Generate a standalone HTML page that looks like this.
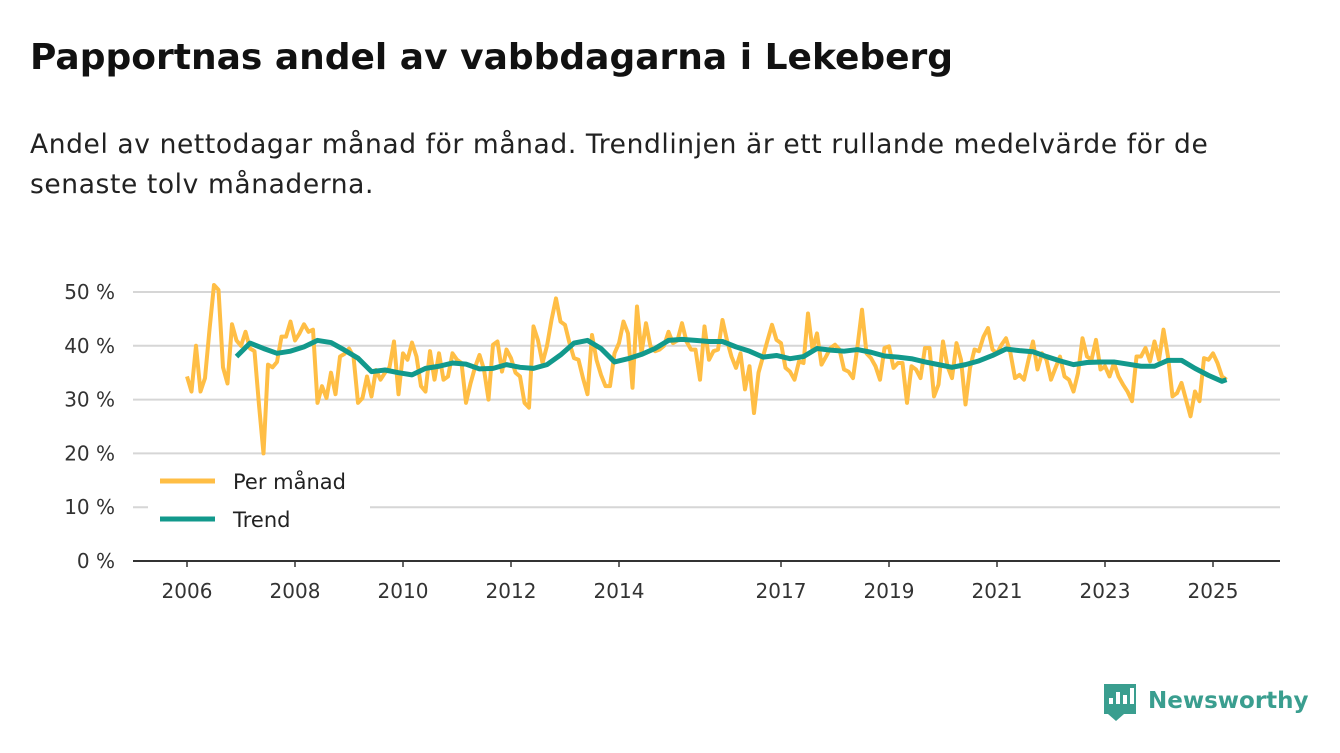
<!DOCTYPE html>
<html><head><meta charset="utf-8">
<style>
body{margin:0;width:1340px;height:753px;background:#fff;font-family:"DejaVu Sans","Liberation Sans",sans-serif;overflow:hidden;position:relative}
h1{position:absolute;left:30px;top:37px;margin:0;font-size:36px;font-weight:bold;color:#111}
p{position:absolute;left:30px;top:125px;margin:0;font-size:26.5px;letter-spacing:0.6px;line-height:40px;color:#222;width:1245px}
svg{position:absolute;left:0;top:0;font-family:"DejaVu Sans","Liberation Sans",sans-serif}
</style></head><body>
<h1>Papportnas andel av vabbdagarna i Lekeberg</h1>
<p>Andel av nettodagar månad för månad. Trendlinjen är ett rullande medelvärde för de senaste tolv månaderna.</p>
<svg id="chart" width="1340" height="753"></svg>
<script>
const yTicks=[0,10,20,30,40,50];
const xTickYears=[2006,2008,2010,2012,2014,2017,2019,2021,2023,2025];
const monthlyStart=2006;
const monthly=[34.3,31.5,40,31.5,34,43,51.3,50.4,36,33,
44,41,40,42.6,39.5,39,29,20,36.5,36,
37,41.7,41.7,44.5,41,42.3,44,42.6,43,29.4,
32.5,30.3,35,31,38,38.5,39.5,38,29.4,30.3,
34.3,30.6,35.5,33.7,35,36,40.8,31,38.6,37.4,
40.6,38,32.5,31.5,39,33.7,38.6,33.7,34.3,38.6,
37.4,36.8,29.4,33,36,38.3,35.6,30,40.2,40.8,
35.2,39.3,37.7,35,34.3,29.4,28.5,43.6,41,36.8,
40,44.8,48.8,44.5,43.9,40.5,37.7,37.4,34,31,
42,37.4,34.6,32.5,32.5,38.6,40.5,44.5,42.3,32.2,
47.3,38.6,44.2,39.9,39,39.3,40,42.6,40.5,41,
44.2,40.8,39.3,39.3,33.7,43.6,37.4,39,39.3,44.8,
41,38,35.9,38.6,31.9,36.2,27.5,35,38,41,
43.9,41.1,40.5,35.9,35.2,33.7,37.1,36.8,46,39.3,
42.3,36.5,38,39.6,40.2,39.3,35.6,35.2,34,39.9,
46.7,38.6,37.7,36.2,33.7,39.6,39.9,35.9,36.8,36.8,
29.4,36.2,35.6,34,39.6,39.6,30.6,32.8,40.8,36.2,
34,40.5,37.4,29.1,35.9,39.3,39,41.7,43.3,39.3,
38.6,40.2,41.4,38.6,34,34.6,33.7,37.4,40.8,35.6,
38.6,37.4,33.7,35.9,38,34.3,33.7,31.5,34.9,41.4,
38,37.4,41.1,35.6,36.2,34.3,36.8,34.3,32.8,31.5,
29.7,38,38,39.6,37.1,40.8,37.4,43,38,30.6,
31.2,33.1,30,26.9,31.5,29.7,37.7,37.4,38.6,36.8,
34.3,33.7];
const trendStartMonth=11, trendStep=3;
const trend=[38,40.5,39.5,38.6,39,39.8,41,40.6,39.2,37.7,
35.2,35.5,35,34.6,35.8,36.2,36.8,36.6,35.7,35.8,
36.5,36,35.8,36.5,38.3,40.5,41,39.5,37,37.6,
38.4,39.5,41,41.2,41,40.8,40.8,39.8,39,37.9,
38.2,37.6,38,39.5,39.2,39,39.3,38.8,38.1,37.9,
37.6,37,36.5,36,36.5,37.2,38.2,39.4,39.1,38.9,
38,37.2,36.5,36.9,37,37,36.6,36.2,36.2,37.3,
37.3,35.8,34.5,33.4];
const trendLast=33.7;

const svg=document.getElementById('chart');
const NS='http://www.w3.org/2000/svg';
const X0=187, PXY=54, Y0=561, PXP=5.38;
const xm=m=>X0+m*PXY/12;
const xy=yr=>X0+(yr-monthlyStart)*PXY;
const yv=v=>Y0-v*PXP;
function mk(tag,attrs,parent){const e=document.createElementNS(NS,tag);for(const k in attrs)e.setAttribute(k,attrs[k]);(parent||svg).appendChild(e);return e;}

yTicks.forEach(t=>{
  const g=mk('line',{x1:133,x2:1280,y1:yv(t),y2:yv(t),stroke:t===0?'#333':'#d6d6d6','stroke-width':2});
  
  
  const l=mk('text',{x:115,y:yv(t)+7,'text-anchor':'end','font-size':20,fill:'#333'});
  l.textContent=t+' %';
  
  
});
xTickYears.forEach(yr=>{
  const tk=mk('line',{x1:xy(yr),x2:xy(yr),y1:Y0,y2:Y0+6,stroke:'#333','stroke-width':1.5});
  
  
  const l=mk('text',{x:xy(yr),y:598,'text-anchor':'middle','font-size':20,fill:'#333'});
  l.textContent=yr;
  
  
});
const mp=mk('polyline',{points:monthly.map((v,i)=>xm(i)+','+yv(v)).join(' '),fill:'none',stroke:'#ffbe45','stroke-width':4,'stroke-linejoin':'round'});


const tpts=trend.map((v,i)=>xm(trendStartMonth+i*trendStep)+','+yv(v));
tpts.push(xm(monthly.length-1)+','+yv(trendLast));
const tp=mk('polyline',{points:tpts.join(' '),fill:'none',stroke:'#12998c','stroke-width':5,'stroke-linejoin':'round'});



const lg=mk('g',{});


mk('rect',{x:148,y:462,width:222,height:74,fill:'#fff'},lg);
[['Per månad','#ffbe45',481],['Trend','#12998c',519]].forEach(([t,c,y])=>{
  const ln=mk('line',{x1:160,x2:215,y1:y,y2:y,stroke:c,'stroke-width':5},lg);
  
  
  const tx=mk('text',{x:233,y:y+8,'font-size':21,fill:'#222'},lg);
  tx.textContent=t;
  
  
});
const logo=mk('g',{});


mk('path',{d:'M1104 684 h32 v30 h-12 l-8 7 l-8 -7 h-4 z',fill:'#3a9e8f'},logo);
[[1110,700,4,10],[1117,694,4,16],[1124,697,4,13],[1131,690,4,20]].forEach(([x,y,w,h])=>mk('rect',{x:x-1,y:y-2,width:w,height:h-4,fill:'#fff'},logo));
const lt=mk('text',{x:1148,y:708,'font-size':23,'font-weight':'bold',fill:'#3a9e8f'},logo);
lt.textContent='Newsworthy';
</script>
</body></html>
